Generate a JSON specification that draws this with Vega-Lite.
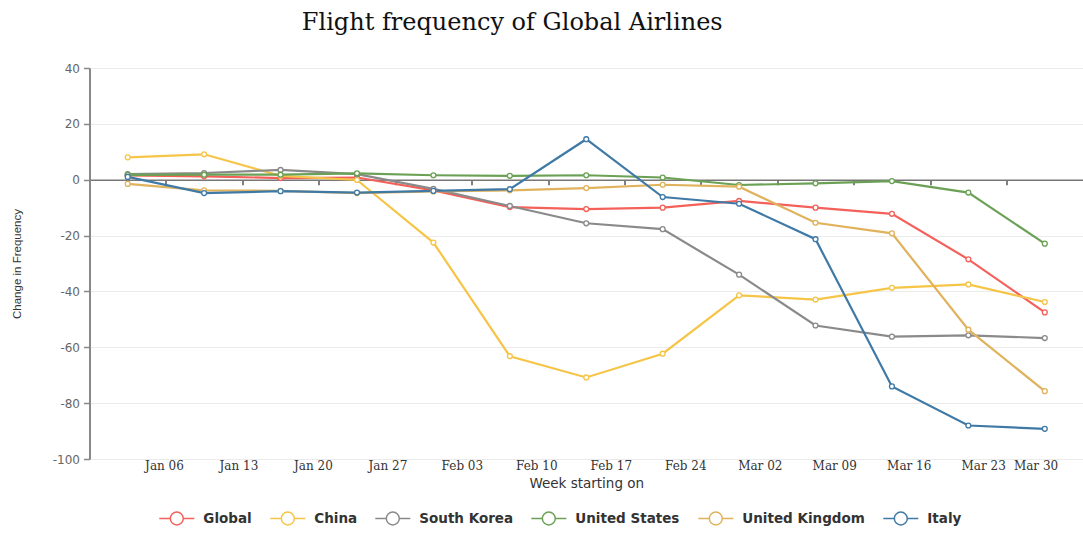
{
  "$schema": "https://vega.github.io/schema/vega-lite/v6.json",
  "autosize": {"type": "none"},
  "padding": {"left": 89.5, "top": 68, "right": 0, "bottom": 94},
  "width": 993.5,
  "height": 391,
  "background": "white",
  "title": {
    "text": "Flight frequency of Global Airlines",
    "font": "DejaVu Serif",
    "fontSize": 24,
    "fontWeight": "normal",
    "color": "#111111",
    "anchor": "middle",
    "baseline": "bottom",
    "dx": -74,
    "offset": 3
  },
  "config": {
    "view": {"stroke": null},
    "locale": {"number": {"decimal": ".", "thousands": ",", "grouping": [3], "currency": ["$", ""], "minus": "-"}}
  },
  "data": {
    "values": [
      {"country": "Global", "week": "2020-01-02T12:00:00", "change": 1.5},
      {"country": "Global", "week": "2020-01-09T12:00:00", "change": 1.2},
      {"country": "Global", "week": "2020-01-16T12:00:00", "change": 0.6},
      {"country": "Global", "week": "2020-01-23T12:00:00", "change": 0.8},
      {"country": "Global", "week": "2020-01-30T12:00:00", "change": -3.8},
      {"country": "Global", "week": "2020-02-06T12:00:00", "change": -9.8},
      {"country": "Global", "week": "2020-02-13T12:00:00", "change": -10.5},
      {"country": "Global", "week": "2020-02-20T12:00:00", "change": -10.0},
      {"country": "Global", "week": "2020-02-27T12:00:00", "change": -7.6},
      {"country": "Global", "week": "2020-03-05T12:00:00", "change": -10.0},
      {"country": "Global", "week": "2020-03-12T12:00:00", "change": -12.2},
      {"country": "Global", "week": "2020-03-19T12:00:00", "change": -28.5},
      {"country": "Global", "week": "2020-03-26T12:00:00", "change": -47.5},
      {"country": "China", "week": "2020-01-02T12:00:00", "change": 8.0},
      {"country": "China", "week": "2020-01-09T12:00:00", "change": 9.1},
      {"country": "China", "week": "2020-01-16T12:00:00", "change": 1.4},
      {"country": "China", "week": "2020-01-23T12:00:00", "change": -0.1},
      {"country": "China", "week": "2020-01-30T12:00:00", "change": -22.5},
      {"country": "China", "week": "2020-02-06T12:00:00", "change": -63.2},
      {"country": "China", "week": "2020-02-13T12:00:00", "change": -70.8},
      {"country": "China", "week": "2020-02-20T12:00:00", "change": -62.3},
      {"country": "China", "week": "2020-02-27T12:00:00", "change": -41.4},
      {"country": "China", "week": "2020-03-05T12:00:00", "change": -42.9},
      {"country": "China", "week": "2020-03-12T12:00:00", "change": -38.7},
      {"country": "China", "week": "2020-03-19T12:00:00", "change": -37.5},
      {"country": "China", "week": "2020-03-26T12:00:00", "change": -43.8},
      {"country": "South Korea", "week": "2020-01-02T12:00:00", "change": 2.0},
      {"country": "South Korea", "week": "2020-01-09T12:00:00", "change": 2.4},
      {"country": "South Korea", "week": "2020-01-16T12:00:00", "change": 3.5},
      {"country": "South Korea", "week": "2020-01-23T12:00:00", "change": 2.0},
      {"country": "South Korea", "week": "2020-01-30T12:00:00", "change": -3.3},
      {"country": "South Korea", "week": "2020-02-06T12:00:00", "change": -9.4},
      {"country": "South Korea", "week": "2020-02-13T12:00:00", "change": -15.6},
      {"country": "South Korea", "week": "2020-02-20T12:00:00", "change": -17.7},
      {"country": "South Korea", "week": "2020-02-27T12:00:00", "change": -34.0},
      {"country": "South Korea", "week": "2020-03-05T12:00:00", "change": -52.2},
      {"country": "South Korea", "week": "2020-03-12T12:00:00", "change": -56.2},
      {"country": "South Korea", "week": "2020-03-19T12:00:00", "change": -55.7},
      {"country": "South Korea", "week": "2020-03-26T12:00:00", "change": -56.7},
      {"country": "United States", "week": "2020-01-02T12:00:00", "change": 1.7},
      {"country": "United States", "week": "2020-01-09T12:00:00", "change": 1.8},
      {"country": "United States", "week": "2020-01-16T12:00:00", "change": 1.8},
      {"country": "United States", "week": "2020-01-23T12:00:00", "change": 2.3},
      {"country": "United States", "week": "2020-01-30T12:00:00", "change": 1.6},
      {"country": "United States", "week": "2020-02-06T12:00:00", "change": 1.4},
      {"country": "United States", "week": "2020-02-13T12:00:00", "change": 1.6},
      {"country": "United States", "week": "2020-02-20T12:00:00", "change": 0.8},
      {"country": "United States", "week": "2020-02-27T12:00:00", "change": -1.9},
      {"country": "United States", "week": "2020-03-05T12:00:00", "change": -1.3},
      {"country": "United States", "week": "2020-03-12T12:00:00", "change": -0.5},
      {"country": "United States", "week": "2020-03-19T12:00:00", "change": -4.6},
      {"country": "United States", "week": "2020-03-26T12:00:00", "change": -22.9},
      {"country": "United Kingdom", "week": "2020-01-02T12:00:00", "change": -1.5},
      {"country": "United Kingdom", "week": "2020-01-09T12:00:00", "change": -3.8},
      {"country": "United Kingdom", "week": "2020-01-16T12:00:00", "change": -4.0},
      {"country": "United Kingdom", "week": "2020-01-23T12:00:00", "change": -4.8},
      {"country": "United Kingdom", "week": "2020-01-30T12:00:00", "change": -4.2},
      {"country": "United Kingdom", "week": "2020-02-06T12:00:00", "change": -3.8},
      {"country": "United Kingdom", "week": "2020-02-13T12:00:00", "change": -3.0},
      {"country": "United Kingdom", "week": "2020-02-20T12:00:00", "change": -1.8},
      {"country": "United Kingdom", "week": "2020-02-27T12:00:00", "change": -2.5},
      {"country": "United Kingdom", "week": "2020-03-05T12:00:00", "change": -15.4},
      {"country": "United Kingdom", "week": "2020-03-12T12:00:00", "change": -19.2},
      {"country": "United Kingdom", "week": "2020-03-19T12:00:00", "change": -53.7},
      {"country": "United Kingdom", "week": "2020-03-26T12:00:00", "change": -75.7},
      {"country": "Italy", "week": "2020-01-02T12:00:00", "change": 1.0},
      {"country": "Italy", "week": "2020-01-09T12:00:00", "change": -4.8},
      {"country": "Italy", "week": "2020-01-16T12:00:00", "change": -4.1},
      {"country": "Italy", "week": "2020-01-23T12:00:00", "change": -4.6},
      {"country": "Italy", "week": "2020-01-30T12:00:00", "change": -4.0},
      {"country": "Italy", "week": "2020-02-06T12:00:00", "change": -3.4},
      {"country": "Italy", "week": "2020-02-13T12:00:00", "change": 14.5},
      {"country": "Italy", "week": "2020-02-20T12:00:00", "change": -6.2},
      {"country": "Italy", "week": "2020-02-27T12:00:00", "change": -8.6},
      {"country": "Italy", "week": "2020-03-05T12:00:00", "change": -21.3},
      {"country": "Italy", "week": "2020-03-12T12:00:00", "change": -74.0},
      {"country": "Italy", "week": "2020-03-19T12:00:00", "change": -88.0},
      {"country": "Italy", "week": "2020-03-26T12:00:00", "change": -89.2}
    ]
  },
  "resolve": {"axis": {"x": "independent"}},
  "layer": [
    {
      "mark": {"type": "line", "strokeWidth": 2.2},
      "encoding": {
        "x": {
          "field": "week",
          "type": "temporal",
          "scale": {"domain": [{"year": 2019, "month": 12, "date": 30}, {"year": 2020, "month": 3, "date": 30}]},
          "axis": {
            "orient": "bottom",
            "offset": -279.3,
            "title": null,
            "labels": false,
            "grid": false,
            "domain": true,
            "domainColor": "#777777",
            "domainWidth": 1.5,
            "ticks": true,
            "tickColor": "#555555",
            "tickWidth": 1.5,
            "tickSize": 5,
            "values": [
              {"year": 2019, "month": 12, "date": 30},
              {"year": 2020, "month": 1, "date": 6},
              {"year": 2020, "month": 1, "date": 13},
              {"year": 2020, "month": 1, "date": 20},
              {"year": 2020, "month": 1, "date": 27},
              {"year": 2020, "month": 2, "date": 3},
              {"year": 2020, "month": 2, "date": 10},
              {"year": 2020, "month": 2, "date": 17},
              {"year": 2020, "month": 2, "date": 24},
              {"year": 2020, "month": 3, "date": 2},
              {"year": 2020, "month": 3, "date": 9},
              {"year": 2020, "month": 3, "date": 16},
              {"year": 2020, "month": 3, "date": 23},
              {"year": 2020, "month": 3, "date": 30}
            ]
          }
        },
        "y": {
          "field": "change",
          "type": "quantitative",
          "scale": {"domain": [-100, 40], "nice": false, "zero": false},
          "axis": {
            "title": "Change in Frequency",
            "titleFont": "Liberation Sans",
            "titleFontSize": 11.5,
            "titleFontWeight": "normal",
            "titleColor": "#333333",
            "titlePadding": 30,
            "values": [-100, -80, -60, -40, -20, 0, 20, 40],
            "labelFont": "DejaVu Sans",
            "labelFontSize": 12,
            "labelColor": "#666666",
            "labelPadding": 4,
            "tickSize": 6,
            "tickColor": "#888888",
            "tickWidth": 1.5,
            "domainColor": "#888888",
            "domainWidth": 2,
            "gridColor": "#ebebeb",
            "gridWidth": 1
          }
        },
        "stroke": {
          "field": "country",
          "type": "nominal",
          "scale": {
            "domain": ["Global", "China", "South Korea", "United States", "United Kingdom", "Italy"],
            "range": ["#f4605a", "#f6c547", "#8a8a8a", "#6aa155", "#e0b25c", "#3f79a6"]
          },
          "legend": {
            "orient": "none",
            "legendX": 68.8,
            "legendY": 432,
            "direction": "horizontal",
            "title": null,
            "columnPadding": 15,
            "labelOffset": 8,
            "labelFont": "DejaVu Sans",
            "labelFontSize": 13.5,
            "labelFontWeight": "bold",
            "labelColor": "#333333",
            "symbolType": "M-1,0L-0.37,0M0.37,0L1,0M0.37,0A0.37,0.37,0,1,1,-0.37,0A0.37,0.37,0,1,1,0.37,0",
            "symbolSize": 1225,
            "symbolStrokeWidth": 1.5,
            "symbolFillColor": "white",
            "symbolOpacity": 0.7
          }
        }
      }
    },
    {
      "mark": {"type": "point", "filled": true, "fill": "white", "strokeWidth": 1.3, "size": 24, "opacity": 1},
      "encoding": {
        "x": {
          "field": "week",
          "type": "temporal",
          "axis": {
            "orient": "bottom",
            "title": "Week starting on",
            "titleFont": "DejaVu Sans",
            "titleFontSize": 13.5,
            "titleFontWeight": "normal",
            "titleColor": "#333333",
            "titlePadding": 5,
            "grid": false,
            "domain": false,
            "ticks": false,
            "labelPadding": 1,
            "labelOffset": {"expr": "-0.0255 * scale('x', datum.value)"},
            "labelFont": "DejaVu Serif",
            "labelFontSize": 12,
            "labelColor": "#333333",
            "format": "%b %d",
            "values": [
              {"year": 2020, "month": 1, "date": 6},
              {"year": 2020, "month": 1, "date": 13},
              {"year": 2020, "month": 1, "date": 20},
              {"year": 2020, "month": 1, "date": 27},
              {"year": 2020, "month": 2, "date": 3},
              {"year": 2020, "month": 2, "date": 10},
              {"year": 2020, "month": 2, "date": 17},
              {"year": 2020, "month": 2, "date": 24},
              {"year": 2020, "month": 3, "date": 2},
              {"year": 2020, "month": 3, "date": 9},
              {"year": 2020, "month": 3, "date": 16},
              {"year": 2020, "month": 3, "date": 23},
              {"year": 2020, "month": 3, "date": 30}
            ]
          }
        },
        "y": {"field": "change", "type": "quantitative"},
        "stroke": {"field": "country", "type": "nominal"}
      }
    }
  ]
}
